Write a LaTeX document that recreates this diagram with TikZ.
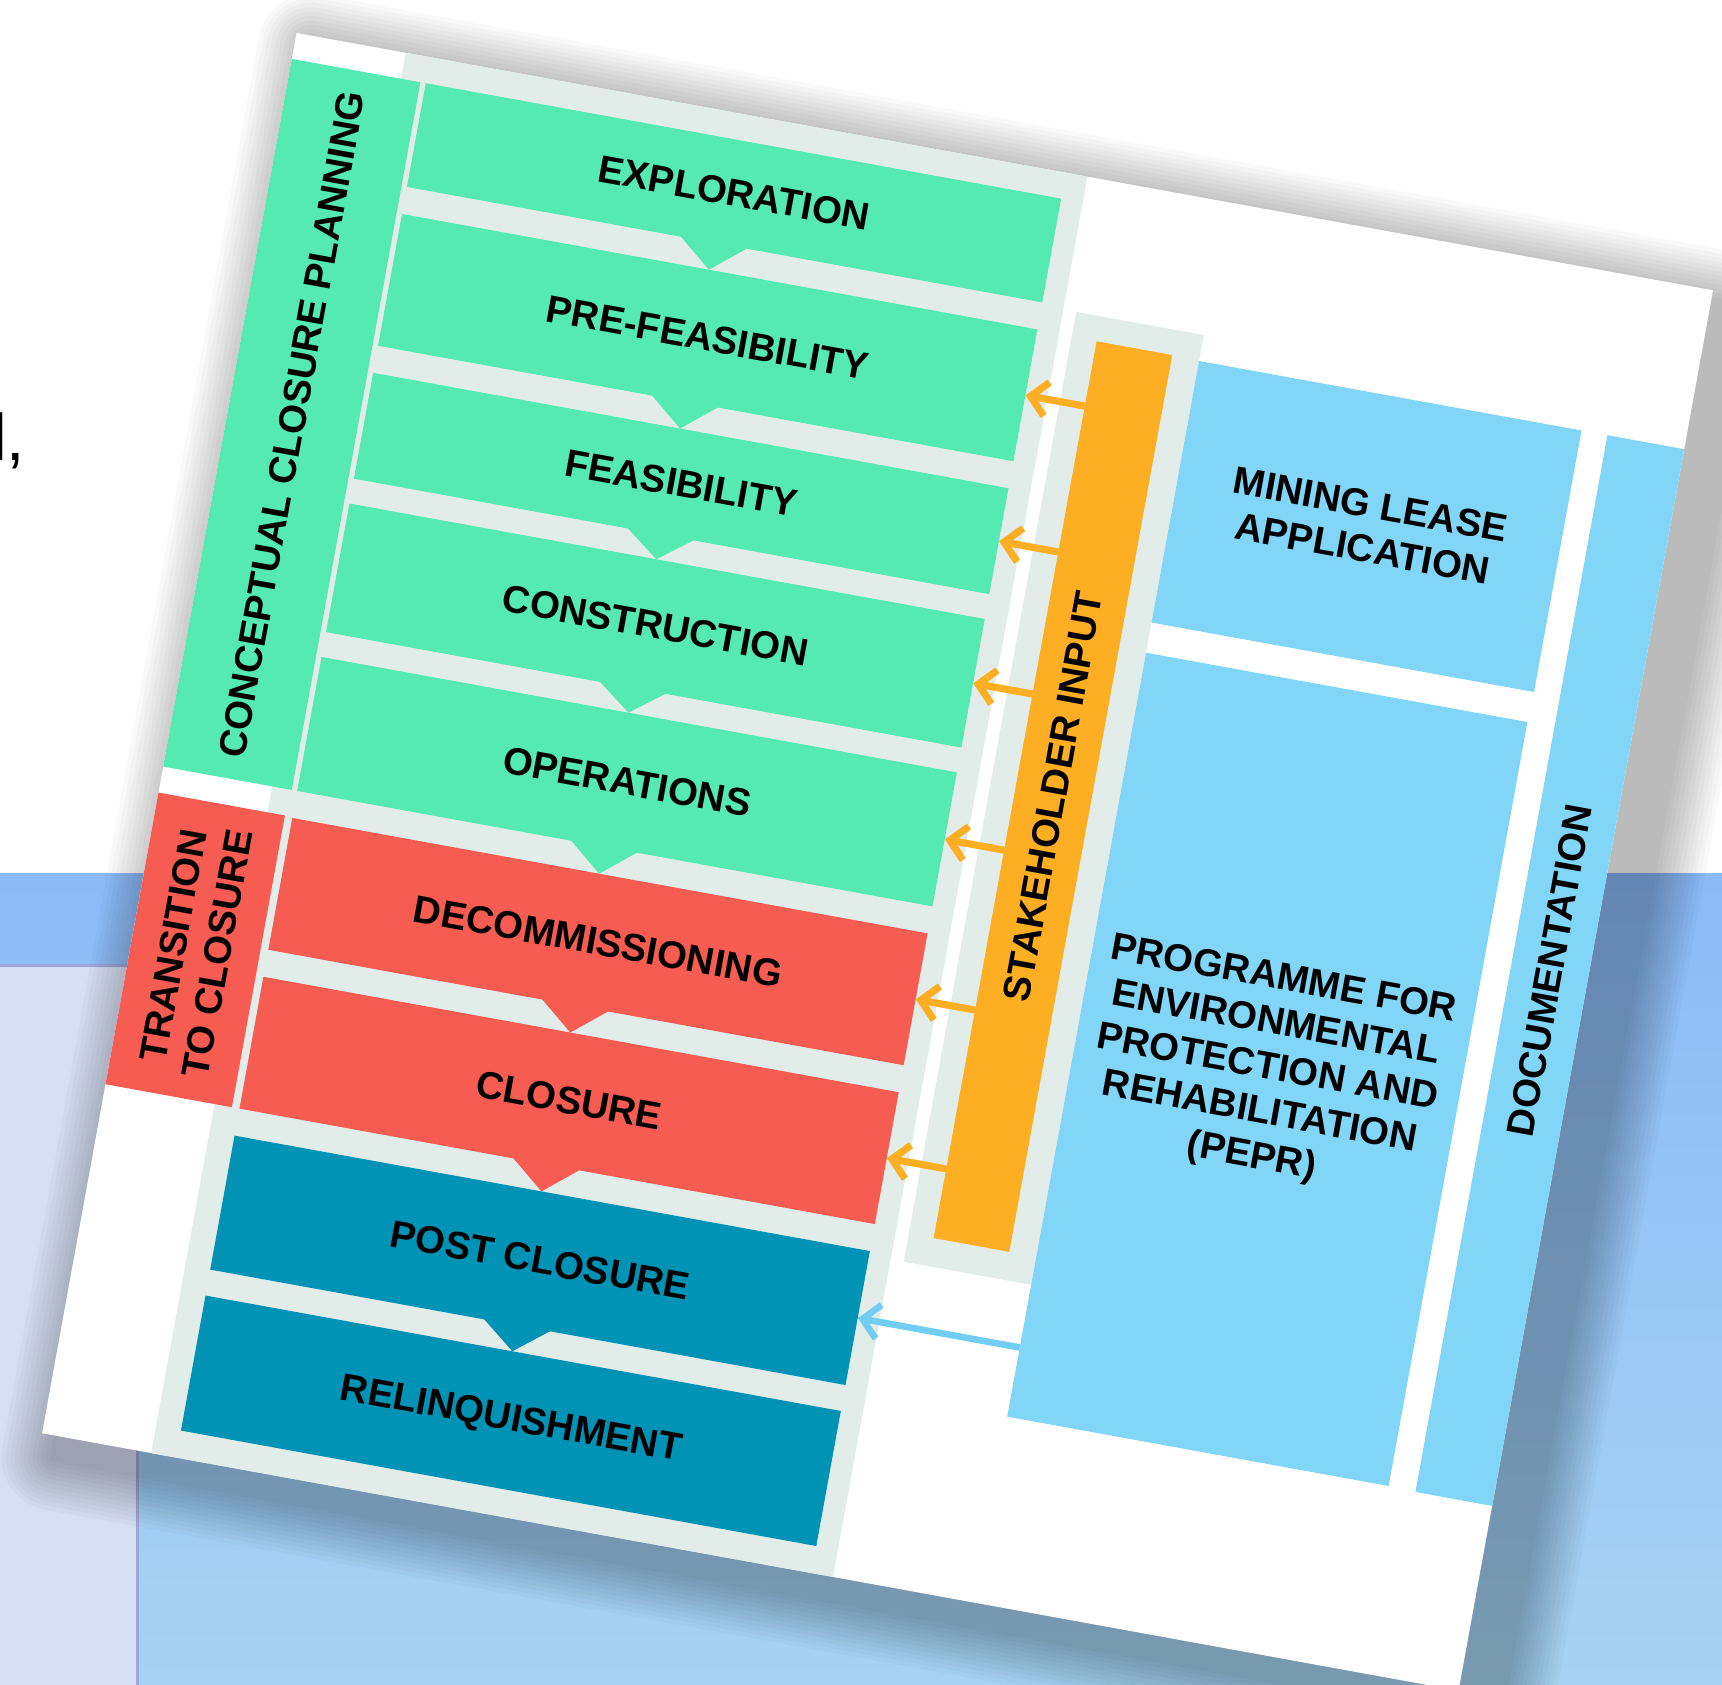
\documentclass[tikz,border=0pt]{standalone}
\usepackage{fontspec}
\setmainfont{Liberation Sans}
\usetikzlibrary{arrows.meta}
\definecolor{grn}{HTML}{55E9B3}
\definecolor{gry}{HTML}{E2EDEA}
\definecolor{redc}{HTML}{F75C53}
\definecolor{tealc}{HTML}{0093B5}
\definecolor{lblue}{HTML}{81D6F7}
\definecolor{orng}{HTML}{FDAE22}
\definecolor{bgtop}{HTML}{8BBAF6}
\definecolor{bgbot}{HTML}{A6D3F3}
\definecolor{lav}{HTML}{D6DEF2}
\definecolor{lavline}{HTML}{A0A6D8}
\definecolor{barrow}{HTML}{72CDF2}
\newcommand\lbl{\fontsize{35}{41}\selectfont\bfseries}
\begin{document}
\begin{tikzpicture}[x=1pt,y=-1pt,
  box/.style={minimum width=588pt, inner sep=0pt, font=\lbl, align=center},
  vbox/.style={rotate=90, inner sep=0pt, font=\lbl, align=center},
  bluebox/.style={fill=lblue, inner sep=0pt, font=\lbl, align=center},
  oarrow/.style={draw=orng, line width=6.5pt, -{Straight Barb[length=15pt,width=31pt]}},
  barrowst/.style={draw=barrow, line width=6pt, -{Straight Barb[length=15pt,width=31pt]}}]
\useasboundingbox (0,0) rectangle (1568,1534);
\clip (0,0) rectangle (1568,1534);
% page background
\fill[white] (0,0) rectangle (1568,1534);
\shade[top color=bgtop, bottom color=bgbot] (0,795) rectangle (1568,1534);
\fill[lav] (0,879) rectangle (125,1534);
\draw[lavline, line width=2.5pt] (0,879) -- (125,879) -- (125,1534);
\node[anchor=base east, inner sep=0pt, font=\fontsize{60}{60}\selectfont] (frag) at (23,419) {l,};
% the card
\begin{scope}[shift={(270,30)}, rotate=-10.3, transform shape]
  \foreach \k in {1,...,12}
    \fill[black, fill opacity=0.022, rounded corners=\k*4pt]
      ({15-\k*4},{10-\k*4}) rectangle ({1351+\k*4},{1316+\k*4});
  \fill[white] (0,0) rectangle (1311,1296);
  \fill[gry] (101,0) rectangle (732,1296);
  \node[vbox, fill=grn, minimum width=655pt, minimum height=119pt] (ccp) at (59.5,351.5) {CONCEPTUAL CLOSURE PLANNING};
  \node[vbox, fill=redc, minimum width=270pt, minimum height=117pt] (trans) at (58.5,838) {TRANSITION\\TO CLOSURE};
  % phases
  \node[box, fill=grn, minimum height=96pt] (expl) at (418,72) {EXPLORATION};
  \node[box, fill=grn, minimum height=122pt] (pref) at (418,206) {PRE-FEASIBILITY};
  \node[box, fill=grn, minimum height=98pt] (feas) at (418,341) {FEASIBILITY};
  \node[box, fill=grn, minimum height=119pt] (cons) at (418,472.5) {CONSTRUCTION};
  \node[box, fill=grn, minimum height=124pt] (oper) at (418,617) {OPERATIONS};
  \node[box, fill=redc, minimum height=122pt] (deco) at (418,765) {DECOMMISSIONING};
  \node[box, fill=redc, minimum height=122pt] (clos) at (418,912) {CLOSURE};
  \node[box, fill=tealc, minimum height=124pt] (post) at (418,1060) {POST CLOSURE};
  \node[box, fill=tealc, minimum height=125pt] (reli) at (418,1208.5) {RELINQUISHMENT};
  % notches
  \foreach \b/\t/\c in {120/145/grn, 267/292/grn, 390/413/grn, 532/555/grn, 679/704/grn, 826/851/redc, 973/998/redc, 1122/1146/tealc}
    \fill[\c] (377,{\b-0.5}) -- (439,{\b-0.5}) -- (408,\t) -- cycle;
  % stakeholder
  \fill[gry] (744,123) rectangle (862,1002);
  \node[vbox, fill=orng, minimum width=830pt, minimum height=70pt] (stake) at (802,561) {STAKEHOLDER INPUT};
  % right column
  \node[bluebox, minimum width=354pt, minimum height=242pt] (mla) at (1039,268) {MINING LEASE\\APPLICATION};
  \node[bluebox, minimum width=353pt, minimum height=707pt] (pepr) at (1038.5,770.5) {PROGRAMME FOR\\ENVIRONMENTAL\\PROTECTION AND\\REHABILITATION\\(PEPR)};
  \node[vbox, fill=lblue, minimum width=978pt, minimum height=71pt] (doc) at (1275.5,636) {DOCUMENTATION};
  % arrows
  \coordinate (s1) at (767,206);
  \coordinate (s2) at (767,341);
  \coordinate (s3) at (767,472.5);
  \coordinate (s4) at (767,617);
  \coordinate (s5) at (767,765);
  \coordinate (s6) at (767,912);
  \coordinate (s7) at (862,1060);
  \draw[oarrow] (s1) -- (pref.east);
  \draw[oarrow] (s2) -- (feas.east);
  \draw[oarrow] (s3) -- (cons.east);
  \draw[oarrow] (s4) -- (oper.east);
  \draw[oarrow] (s5) -- (deco.east);
  \draw[oarrow] (s6) -- (clos.east);
  \draw[barrowst] (s7) -- (post.east);
\end{scope}
\end{tikzpicture}
\end{document}
